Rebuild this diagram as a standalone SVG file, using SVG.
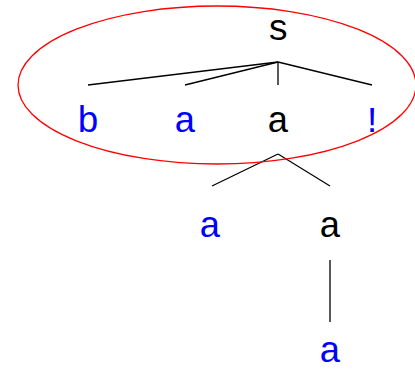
<svg xmlns="http://www.w3.org/2000/svg" width="415" height="373" viewBox="0 0 415 373">
<style>
text{font-family:"Liberation Mono","Courier New",monospace;font-size:37px;text-anchor:middle}
.t{fill:#0000ff}.n{fill:#000}
line{stroke:#000;stroke-width:1.3}
</style>
<rect width="415" height="373" fill="#fff"/>
<g id="connectors">
<line x1="278" y1="62" x2="88" y2="85"/>
<line x1="278" y1="62" x2="185" y2="85"/>
<line x1="278" y1="62" x2="278" y2="85"/>
<line x1="278" y1="62" x2="372" y2="85"/>
<line x1="278" y1="154" x2="212" y2="186"/>
<line x1="278" y1="154" x2="330" y2="186"/>
<line x1="330" y1="260" x2="330" y2="322"/>
</g>
<g id="n_s"><text class="n" x="278" y="40">s</text></g>
<g id="n_b"><text class="t" x="88" y="132">b</text></g>
<g id="n_a1"><text class="t" x="185" y="132">a</text></g>
<g id="n_a2"><text class="n" x="278" y="132">a</text></g>
<g id="n_ex"><text class="t" x="372" y="132">!</text></g>
<g id="n_a3"><text class="t" x="210" y="237">a</text></g>
<g id="n_a4"><text class="n" x="330" y="237">a</text></g>
<g id="n_a5"><text class="t" x="330" y="362">a</text></g>
<g id="highlight"><ellipse cx="217" cy="85" rx="199" ry="79" fill="none" stroke="#ff0000" stroke-width="1.3"/></g>
</svg>
